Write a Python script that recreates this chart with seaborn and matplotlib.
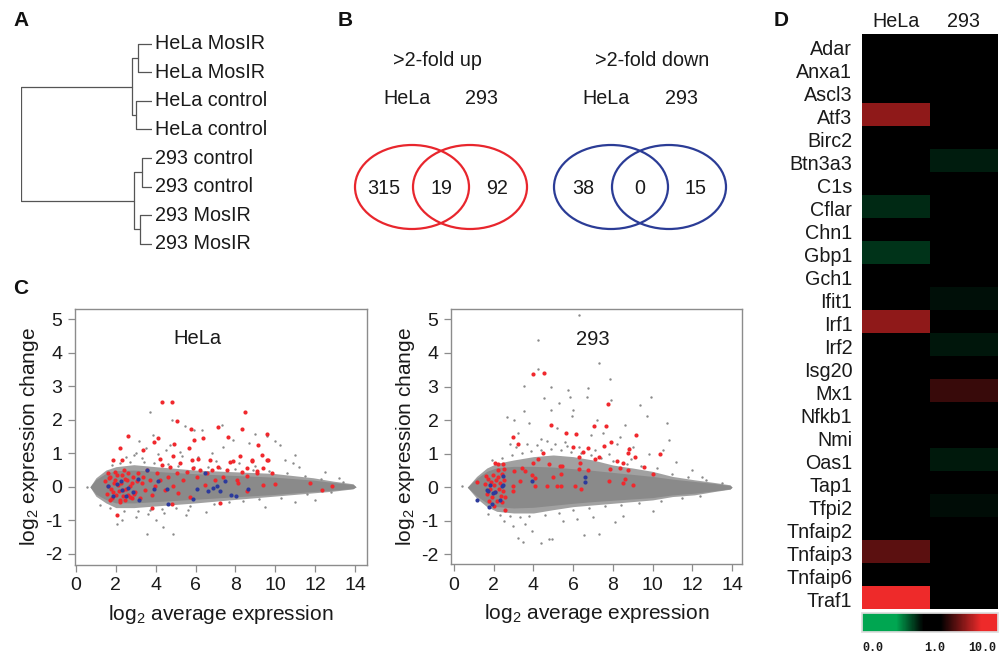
import numpy as np
import pandas as pd
import matplotlib
matplotlib.use("Agg")
import matplotlib.pyplot as plt
import matplotlib.transforms as mtrans
import seaborn as sns
from matplotlib.patches import Ellipse
from matplotlib.colors import LinearSegmentedColormap, Normalize
import matplotlib.cm as cm

sns.set_theme(style="white")
plt.rcParams['font.family'] = ['Liberation Sans', 'DejaVu Sans']
plt.rcParams['mathtext.fontset'] = 'custom'
plt.rcParams['mathtext.rm'] = 'Liberation Sans'
plt.rcParams['mathtext.it'] = 'Liberation Sans:italic'
plt.rcParams['mathtext.bf'] = 'Liberation Sans:bold'

# ---------------- DATA ----------------
# A: dendrogram
dendro_leaves = ["HeLa MosIR", "HeLa MosIR", "HeLa control", "HeLa control",
                 "293 control", "293 control", "293 MosIR", "293 MosIR"]
# merges: (node_a, node_b, height); leaves are nodes 0-7, new nodes numbered from 8
dendro_merges = [(0, 1, 0.107), (2, 3, 0.122), (4, 5, 0.076), (6, 7, 0.092),
                 (8, 9, 0.153), (10, 11, 0.137), (12, 13, 1.0)]

# B: Venn diagrams
venn_titles = [">2-fold up", ">2-fold down"]
venn_set_names = ["HeLa", "293"]
venn_counts = [[315, 19, 92], [38, 0, 15]]
venn_colors = ["#e8262d", "#2b3c96"]

# C: MA plots - cloud envelopes
hela_cloud_x = [0.7, 1.0, 1.5, 2.0, 2.9, 4.0, 6.0, 7.9, 9.9, 11.9, 12.9, 13.9, 14.05]
hela_outer_hi = [0, 0.27, 0.50, 0.60, 0.66, 0.60, 0.50, 0.45, 0.40, 0.27, 0.17, 0.09, 0]
hela_outer_lo = [0, -0.28, -0.48, -0.62, -0.62, -0.57, -0.48, -0.38, -0.28, -0.18, -0.13, -0.06, 0]
hela_core_hi = [0, 0.22, 0.40, 0.48, 0.50, 0.46, 0.39, 0.34, 0.29, 0.20, 0.13, 0.07, 0]
hela_core_lo = [0, -0.22, -0.38, -0.48, -0.48, -0.44, -0.37, -0.30, -0.23, -0.14, -0.10, -0.05, 0]

h293_cloud_x = [0.67, 1.14, 1.65, 2.15, 3.0, 4.0, 5.0, 6.0, 7.0, 8.0, 9.0, 10.0, 11.0, 12.1, 13.1, 13.9, 14.0]
h293_outer_hi = [0, 0.32, 0.57, 0.71, 0.81, 0.91, 0.96, 0.91, 0.81, 0.66, 0.57, 0.47, 0.32, 0.22, 0.14, 0.07, 0]
h293_outer_lo = [0, -0.33, -0.58, -0.72, -0.77, -0.77, -0.67, -0.58, -0.53, -0.48, -0.43, -0.38, -0.28, -0.23, -0.13, -0.06, 0]
h293_core_hi = [0, 0.26, 0.47, 0.58, 0.62, 0.62, 0.60, 0.55, 0.50, 0.44, 0.38, 0.32, 0.24, 0.17, 0.11, 0.05, 0]
h293_core_lo = [0, -0.26, -0.47, -0.58, -0.62, -0.60, -0.54, -0.48, -0.43, -0.39, -0.35, -0.31, -0.23, -0.18, -0.11, -0.05, 0]

# HeLa points
hela_red_x = [4.30, 4.80, 8.48, 5.05, 5.75, 7.11, 8.33, 9.57, 2.59, 4.10, 6.39, 7.61, 3.93, 5.92, 2.21, 4.92,
              9.15, 3.38, 5.69, 8.23, 9.31, 1.84, 2.29, 4.21, 4.88, 6.14, 6.72, 7.89, 8.81, 9.65, 5.80, 2.04,
              1.71, 3.80, 4.80, 7.22, 8.14, 9.40, 9.98, 11.74, 12.32, 12.83, 8.56, 9.82, 9.06, 8.56,
              1.46, 1.62, 1.71, 1.87, 1.96, 2.12, 2.29, 2.37, 2.54, 2.63, 2.71, 2.88, 2.96, 3.04, 3.21, 3.30,
              1.79, 2.21, 2.46, 2.79, 3.38, 3.46, 3.55, 3.71, 3.80, 3.96, 4.05, 4.21, 4.30, 4.46, 4.63, 4.71,
              4.88, 5.05, 5.13, 5.21, 5.38, 5.55, 5.72, 5.88, 6.05, 6.22, 6.47, 6.55, 6.80, 6.97, 7.13, 7.39,
              7.56, 7.72, 8.06, 8.31, 8.56, 8.81, 9.06, 9.40, 9.57,
              1.55, 1.65, 1.75, 1.90, 2.00, 2.05, 2.15, 2.25, 2.35, 2.45, 2.50, 2.60, 2.70, 2.80, 1.95, 2.40,
              2.20, 1.60, 2.90, 3.10]
hela_red_y = [2.52, 2.54, 2.23, 1.97, 1.73, 1.77, 1.73, 1.58, 1.52, 1.46, 1.46, 1.49, 1.34, 1.39, 1.16, 1.27,
              1.26, 1.09, 1.16, 0.91, 0.94, 0.81, 0.81, 0.84, 0.91, 0.84, 0.81, 0.76, 0.76, 0.81, 0.81, -0.84,
              -0.38, -0.62, -0.52, -0.48, 0.10, 0.04, 0.07, 0.10, -0.10, 0.02, 0.32, 0.42, 0.47, -0.13,
              0.16, 0.01, 0.30, -0.14, 0.21, 0.06, 0.36, -0.09, 0.21, -0.24, 0.01, 0.30, -0.14, 0.16, -0.34, 0.11,
              -0.34, -0.39, -0.39, -0.34, 0.30, -0.09, 0.50, 0.21, -0.24, 0.01, 0.41, 0.21, 0.65, -0.09, 0.30, 0.60,
              0.01, 0.41, -0.19, 0.70, 0.21, 0.45, -0.29, 0.55, 0.30, 0.50, 0.06, 0.41, 0.50, 0.21, 0.60, 0.30,
              0.50, 0.75, 0.21, 0.45, 0.55, 0.80, 0.41, 0.55, 0.80,
              -0.20, 0.25, -0.05, 0.12, -0.25, 0.35, -0.12, 0.10, -0.28, 0.22, -0.05, 0.40, -0.30, 0.12, 0.45, 0.50,
              -0.45, 0.40, -0.22, 0.40]
hela_blue_x = [1.62, 1.87, 2.04, 2.24, 2.29, 2.51, 2.63, 2.84, 3.13, 3.18, 3.55, 3.91, 4.13, 4.55, 4.60, 5.85,
               6.05, 6.47, 6.64, 6.89, 7.06, 7.22, 7.47, 7.78, 8.03, 8.65]
hela_blue_y = [0.02, -0.28, 0.07, 0.17, -0.10, -0.26, -0.03, -0.16, 0.24, -0.38, 0.51, -0.06, 0.17, -0.06, -0.52, -0.36,
               -0.06, 0.42, -0.13, -0.03, 0.02, -0.13, 0.17, -0.23, -0.26, -0.05]
hela_gray_x = [3.71, 4.80, 3.88, 7.31, 6.30, 9.98, 10.23, 10.99, 10.90, 8.98, 3.55, 4.88, 2.04, 11.99, 0.54, 4.38,
               3.18, 5.47, 5.94, 9.57, 7.89, 2.5, 3.0, 3.3, 4.5, 5.2, 6.8, 7.4, 8.7, 10.5, 11.2, 3.0, 4.0, 5.5,
               6.5, 2.3, 12.5, 9.5, 11.0, 13.2, 1.2,
               1.8, 2.2, 2.7, 3.4, 3.9, 4.6, 5.1, 5.9, 6.6, 7.2, 8.0, 8.9, 9.7, 10.6, 11.5, 12.3, 13.4,
               1.7, 2.4, 3.1, 3.7, 4.3, 5.0, 5.7, 6.9, 7.7, 8.4, 9.2, 10.3, 11.6, 12.8,
               2.9, 3.5, 4.1, 4.7, 5.3, 6.1, 7.0, 8.2, 9.0, 3.6, 4.4, 5.6]
hela_gray_y = [2.22, 2.00, 1.55, 1.85, 1.68, 1.36, 1.24, 0.96, 0.71, 1.57, -1.40, -1.42, -1.12, -0.38, 0.0, -1.19,
               1.36, 1.80, 1.70, 1.50, 1.41, 0.9, 1.0, 0.85, 1.1, 1.05, 1.0, 1.2, 1.3, 0.8, 0.6, -0.9, -1.0, -0.85,
               -0.75, -1.0, 0.45, -0.6, -0.45, 0.25, -0.55,
               0.66, 0.72, 0.75, 0.74, 0.70, 0.68, 0.62, 0.60, 0.58, 0.56, 0.52, 0.50, 0.47, 0.40, 0.33, 0.24, 0.14,
               -0.62, -0.72, -0.72, -0.68, -0.66, -0.62, -0.58, -0.52, -0.46, -0.42, -0.36, -0.32, -0.22, -0.16,
               0.95, 1.15, 0.98, 1.25, 0.92, 0.88, 0.78, 0.72, 0.62, -0.82, -0.78, -0.70]

# 293 points
h293_red_x = [4.00, 4.55, 7.75, 4.89, 7.03, 7.66, 9.18, 2.96, 5.65, 6.13, 3.24, 5.98, 6.74, 7.92, 7.56, 8.79,
              9.09, 10.39, 4.50, 4.25, 6.49, 6.29, 7.08, 7.28, 8.20, 8.49, 8.76, 2.07, 2.24, 2.45, 4.00, 4.76,
              5.34, 5.43, 6.32, 6.27, 6.77, 7.83, 8.37, 8.74, 9.55, 10.02, 3.04, 3.41, 3.58, 3.92, 4.08, 5.01,
              5.39, 4.67, 5.18, 5.39, 6.10, 6.40, 7.78, 8.62, 8.50, 9.01, 2.99, 2.99, 3.33, 4.08, 1.14, 2.57, 2.40,
              1.55, 1.65, 1.70, 1.80, 1.85, 1.90, 1.95, 2.00, 2.05, 2.10, 2.15, 2.20, 2.25, 2.30, 2.35, 2.40,
              2.45, 2.50, 2.55, 1.75, 2.00, 1.60, 2.20, 2.50]
h293_red_y = [3.36, 3.41, 2.48, 1.86, 1.81, 1.83, 1.54, 1.51, 1.61, 1.58, 1.28, 1.21, 1.18, 1.34, 1.24, 1.14,
              0.91, 0.99, 1.01, 0.83, 1.05, 0.91, 0.83, 0.91, 0.79, 0.73, 1.01, 0.71, 0.68, 0.69, 0.71, 0.69,
              0.64, 0.64, 0.73, 0.54, 0.50, 0.54, 0.57, 0.52, 0.60, 0.40, 0.47, 0.57, 0.47, 0.35, 0.27, 0.30,
              0.39, 0.04, 0.02, 0.02, 0.04, -0.06, 0.17, 0.24, 0.12, 0.07, 0.02, -0.11, 0.17, 0.02, 0.15, -0.67, -0.43,
              0.10, -0.20, 0.25, -0.05, 0.15, -0.30, 0.35, 0.05, -0.15, 0.20, -0.40, 0.30, -0.05, 0.12, -0.25, 0.40,
              -0.10, 0.20, -0.30, -0.42, -0.55, 0.32, 0.50, 0.55]
h293_blue_x = [1.18, 1.76, 1.90, 1.65, 1.73, 1.98, 2.07, 1.82, 2.32, 2.40, 2.45, 2.49, 3.95, 6.61, 6.61]
h293_blue_y = [-0.38, -0.60, -0.50, -0.08, -0.10, -0.16, -0.13, 0.07, -0.38, 0.02, 0.34, 0.07, 0.17, 0.30, 0.15]
h293_gray_x = [6.27, 4.25, 7.28, 4.25, 3.53, 4.87, 7.87, 6.77, 9.92, 5.76, 5.85, 6.69, 9.38, 4.51, 3.50, 2.66,
               9.71, 10.72, 10.81, 5.93, 2.99, 3.24, 3.46, 4.37, 4.76, 4.92, 6.55, 7.31, 8.12, 3.92, 0.39, 8.79,
               8.37, 7.19, 2.8, 3.2, 3.8, 4.4, 5.2, 5.6, 6.0, 6.9, 7.5, 8.2, 8.6, 9.0, 9.8, 10.5, 11.2, 12.0,
               2.5, 3.6, 5.5, 6.2, 7.0, 8.5, 10.0, 12.5, 4.9, 3.0, 7.9, 5.3,
               1.9, 2.4, 2.9, 3.4, 3.9, 4.4, 4.9, 5.4, 5.9, 6.4, 6.9, 7.4, 8.0, 8.7, 9.4, 10.2, 11.0, 11.8, 12.7, 13.5,
               1.7, 2.3, 2.8, 3.3, 3.8, 4.6, 5.3, 6.0, 6.8, 7.6, 8.4, 9.3, 10.4, 11.5, 12.4,
               3.1, 3.7, 4.2, 4.7, 5.1, 5.7, 6.3, 7.1, 7.8, 8.9]
h293_gray_y = [5.13, 4.38, 3.71, 3.51, 3.02, 3.00, 3.21, 2.95, 2.70, 2.90, 2.68, 2.68, 2.45, 2.65, 2.28, 2.10,
               2.12, 1.92, 1.41, 2.12, -1.17, -1.52, -1.62, -1.67, -1.55, -1.55, -1.42, -1.40, -1.05, -1.32, 0.02, 1.16,
               1.51, 2.00, 1.3, 1.6, 1.9, 1.45, 1.75, 1.35, 2.3, 1.55, 1.6, 1.3, 1.85, 1.2, 1.0, 1.1, 0.75, 0.5,
               -1.0, -1.1, -1.0, -0.95, -0.9, -0.85, -0.7, 0.3, 2.3, 2.0, 2.6, 2.5,
               0.80, 0.88, 0.95, 1.02, 1.08, 1.12, 1.15, 1.12, 1.06, 1.02, 0.95, 0.88, 0.78, 0.70, 0.64, 0.56, 0.40, 0.30, 0.20, 0.12,
               -0.80, -0.84, -0.86, -0.88, -0.86, -0.84, -0.76, -0.68, -0.62, -0.56, -0.52, -0.48, -0.42, -0.32, -0.26,
               1.20, 1.30, 1.25, 1.38, 1.28, 1.22, 1.20, 1.10, 1.00, 0.85]

ma_xticks = [0, 2, 4, 6, 8, 10, 12, 14]
ma_yticks = [-2, -1, 0, 1, 2, 3, 4, 5]

# D: heatmap (log10 ratio scale; colour key 0.0 / 1.0 / 10.0)
genes = ["Adar", "Anxa1", "Ascl3", "Atf3", "Birc2", "Btn3a3", "C1s", "Cflar", "Chn1", "Gbp1", "Gch1",
         "Ifit1", "Irf1", "Irf2", "Isg20", "Mx1", "Nfkb1", "Nmi", "Oas1", "Tap1", "Tfpi2", "Tnfaip2",
         "Tnfaip3", "Tnfaip6", "Traf1"]
hela_vals = [0, 0, 0, 0.52, 0, 0, 0, -0.20, 0, -0.22, 0, 0, 0.52, 0, 0, 0, 0, 0, 0, 0, 0, 0, 0.39, 0, 0.85]
h293_vals = [0, 0, 0, 0, 0, -0.17, 0, 0, 0, 0, 0, -0.14, 0, -0.15, 0, 0.30, 0, 0, -0.16, 0, -0.13, 0, 0, 0, 0]
cbar_tick_vals = [-0.84, 0.074, 0.765]
cbar_tick_labels = ["0.0", "1.0", "10.0"]

# ---------------- FIGURE ----------------
W, H = 999, 657
fig = plt.figure(figsize=(W / 100, H / 100), dpi=100)

def fax(x0, y0, x1, y1):
    return fig.add_axes([x0 / W, 1 - y1 / H, (x1 - x0) / W, (y1 - y0) / H])

# overlay for Venn
ov = fig.add_axes([0, 0, 1, 1])
ov.set_xlim(0, W); ov.set_ylim(H, 0); ov.axis("off")

# panel letters
for lab, (px, py) in zip("ABCD", [(21, 21), (345, 21), (21, 288), (781, 20)]):
    fig.text(px / W, 1 - py / H, lab, fontsize=15, fontweight="bold", ha="center", va="center", color="#111111")

# ---- A: dendrogram ----
axd = fax(21, 29.5, 152, 258)
axd.set_xlim(1.0, 0.0)
axd.set_ylim(len(dendro_leaves) - 0.5, -0.5)
axd.axis("off")
node_y = {i: float(i) for i in range(len(dendro_leaves))}
node_h = {i: 0.0 for i in range(len(dendro_leaves))}
nid = len(dendro_leaves)
lc = "#555555"
for a, b, h in dendro_merges:
    axd.plot([h, h], [node_y[a], node_y[b]], color=lc, lw=0.9, solid_capstyle="butt")
    axd.plot([node_h[a], h], [node_y[a], node_y[a]], color=lc, lw=0.9)
    axd.plot([node_h[b], h], [node_y[b], node_y[b]], color=lc, lw=0.9)
    node_y[nid] = (node_y[a] + node_y[b]) / 2
    node_h[nid] = h
    nid += 1
for i, lab in enumerate(dendro_leaves):
    axd.annotate(lab, (0, i), xytext=(2.5, 0), textcoords="offset points", ha="left", va="center",
                 fontsize=14.2, color="#1a1a1a", annotation_clip=False)

# ---- B: Venn ----
venn_mid = [441, 640]
title_dx = [-4, 12]
for k in range(2):
    m = venn_mid[k]
    c = venn_colors[k]
    for cx in (m - 29, m + 29):
        ov.add_patch(Ellipse((cx, 187), 114, 84, fill=False, ec=c, lw=1.6))
    ov.text(m + title_dx[k], 61, venn_titles[k], fontsize=14.2, ha="center", va="center", color="#1a1a1a")
    ov.text(m - 34, 98, venn_set_names[0], fontsize=14.2, ha="center", va="center", color="#1a1a1a")
    ov.text(m + 41, 98, venn_set_names[1], fontsize=14.2, ha="center", va="center", color="#1a1a1a")
    n1, n12, n2 = venn_counts[k]
    for xx, n in zip((m - 57, m, m + 56), (n1, n12, n2)):
        ov.text(xx, 188, str(n), fontsize=14.2, ha="center", va="center", color="#1a1a1a")

# ---- C: MA plots ----
red = "#f0282d"; blue = "#2c3a9c"; gcol = "#8a8a8a"; spc = "#8c8c8c"

def ma_panel(ax, title, tpos, cx, ohi, olo, chi, clo, gx, gy, rx, ry, bx, by, xlim, ylim):
    ax.fill_between(cx, olo, ohi, color=gcol, alpha=0.8, lw=0)
    ax.fill_between(cx, clo, chi, color=gcol, lw=0)
    sns.scatterplot(x=gx, y=gy, ax=ax, color=gcol, s=3, linewidth=0, legend=False)
    sns.scatterplot(x=rx, y=ry, ax=ax, color=red, s=9, linewidth=0, legend=False)
    sns.scatterplot(x=bx, y=by, ax=ax, color=blue, s=9, linewidth=0, legend=False)
    ax.set_xlim(*xlim); ax.set_ylim(*ylim)
    ax.set_xticks(ma_xticks); ax.set_yticks(ma_yticks)
    ax.set_yticklabels([str(v) for v in ma_yticks])
    for s in ax.spines.values():
        s.set_color(spc); s.set_linewidth(1.0); s.set_visible(True)
    ax.tick_params(axis="both", direction="out", length=5, width=0.9, color=spc,
                   labelsize=14, labelcolor="#1a1a1a", pad=4, left=True, bottom=True)
    ax.set_xlabel("log$_2$ average expression", fontsize=15, color="#1a1a1a", labelpad=6)
    ax.set_ylabel("log$_2$ expression change", fontsize=15, color="#1a1a1a", labelpad=3)
    ax.text(tpos[0], tpos[1], title, transform=ax.transAxes, fontsize=14.5, ha="center", va="center",
            color="#1a1a1a")
    ax.set_facecolor("white")
    ax.grid(False)

ax1 = fax(75, 309, 367, 565)
ma_panel(ax1, "HeLa", (0.42, 0.883), hela_cloud_x, hela_outer_hi, hela_outer_lo, hela_core_hi, hela_core_lo,
         hela_gray_x, hela_gray_y, hela_red_x, hela_red_y, hela_blue_x, hela_blue_y, (-0.05, 14.6), (-2.33, 5.3))
ax2 = fax(451, 309, 742, 564)
ma_panel(ax2, "293", (0.488, 0.882), h293_cloud_x, h293_outer_hi, h293_outer_lo, h293_core_hi, h293_core_lo,
         h293_gray_x, h293_gray_y, h293_red_x, h293_red_y, h293_blue_x, h293_blue_y, (-0.15, 14.5), (-2.29, 5.31))

# ---- D: heatmap ----
cmap = LinearSegmentedColormap.from_list(
    "gkr", [(0.0, "#00a651"), (0.25, "#00a651"), (0.45, "#000000"), (0.58, "#000000"),
            (0.88, "#ee2a2a"), (1.0, "#ee2a2a")])
df = pd.DataFrame({"HeLa": hela_vals, "293": h293_vals}, index=genes)
axh = fax(862, 34, 998, 609)
sns.heatmap(df, ax=axh, cmap=cmap, vmin=-1, vmax=1, cbar=False, linewidths=0)
axh.xaxis.tick_top()
axh.set_xticklabels(df.columns, rotation=0, fontsize=14.2, color="#1a1a1a")
axh.set_yticklabels(df.index, rotation=0, fontsize=14.2, color="#1a1a1a")
axh.tick_params(length=0, pad=7)
axh.tick_params(axis="x", pad=2)
axh.set_xlabel(""); axh.set_ylabel("")
shift = mtrans.ScaledTranslation(0, -4 / 100, fig.dpi_scale_trans)
for t in axh.get_yticklabels():
    t.set_transform(t.get_transform() + shift)

cax = fax(862, 613, 998, 632)
cb = fig.colorbar(cm.ScalarMappable(norm=Normalize(-1, 1), cmap=cmap), cax=cax, orientation="horizontal")
cb.set_ticks(cbar_tick_vals)
cb.set_ticklabels(cbar_tick_labels)
cb.outline.set_edgecolor("#dddddd")
cax.tick_params(length=0, pad=7, labelsize=8.5)
for t in cax.get_xticklabels():
    t.set_fontfamily("Liberation Mono"); t.set_fontweight("bold"); t.set_color("#1a1a1a")

fig.savefig("out.png", dpi=100)
